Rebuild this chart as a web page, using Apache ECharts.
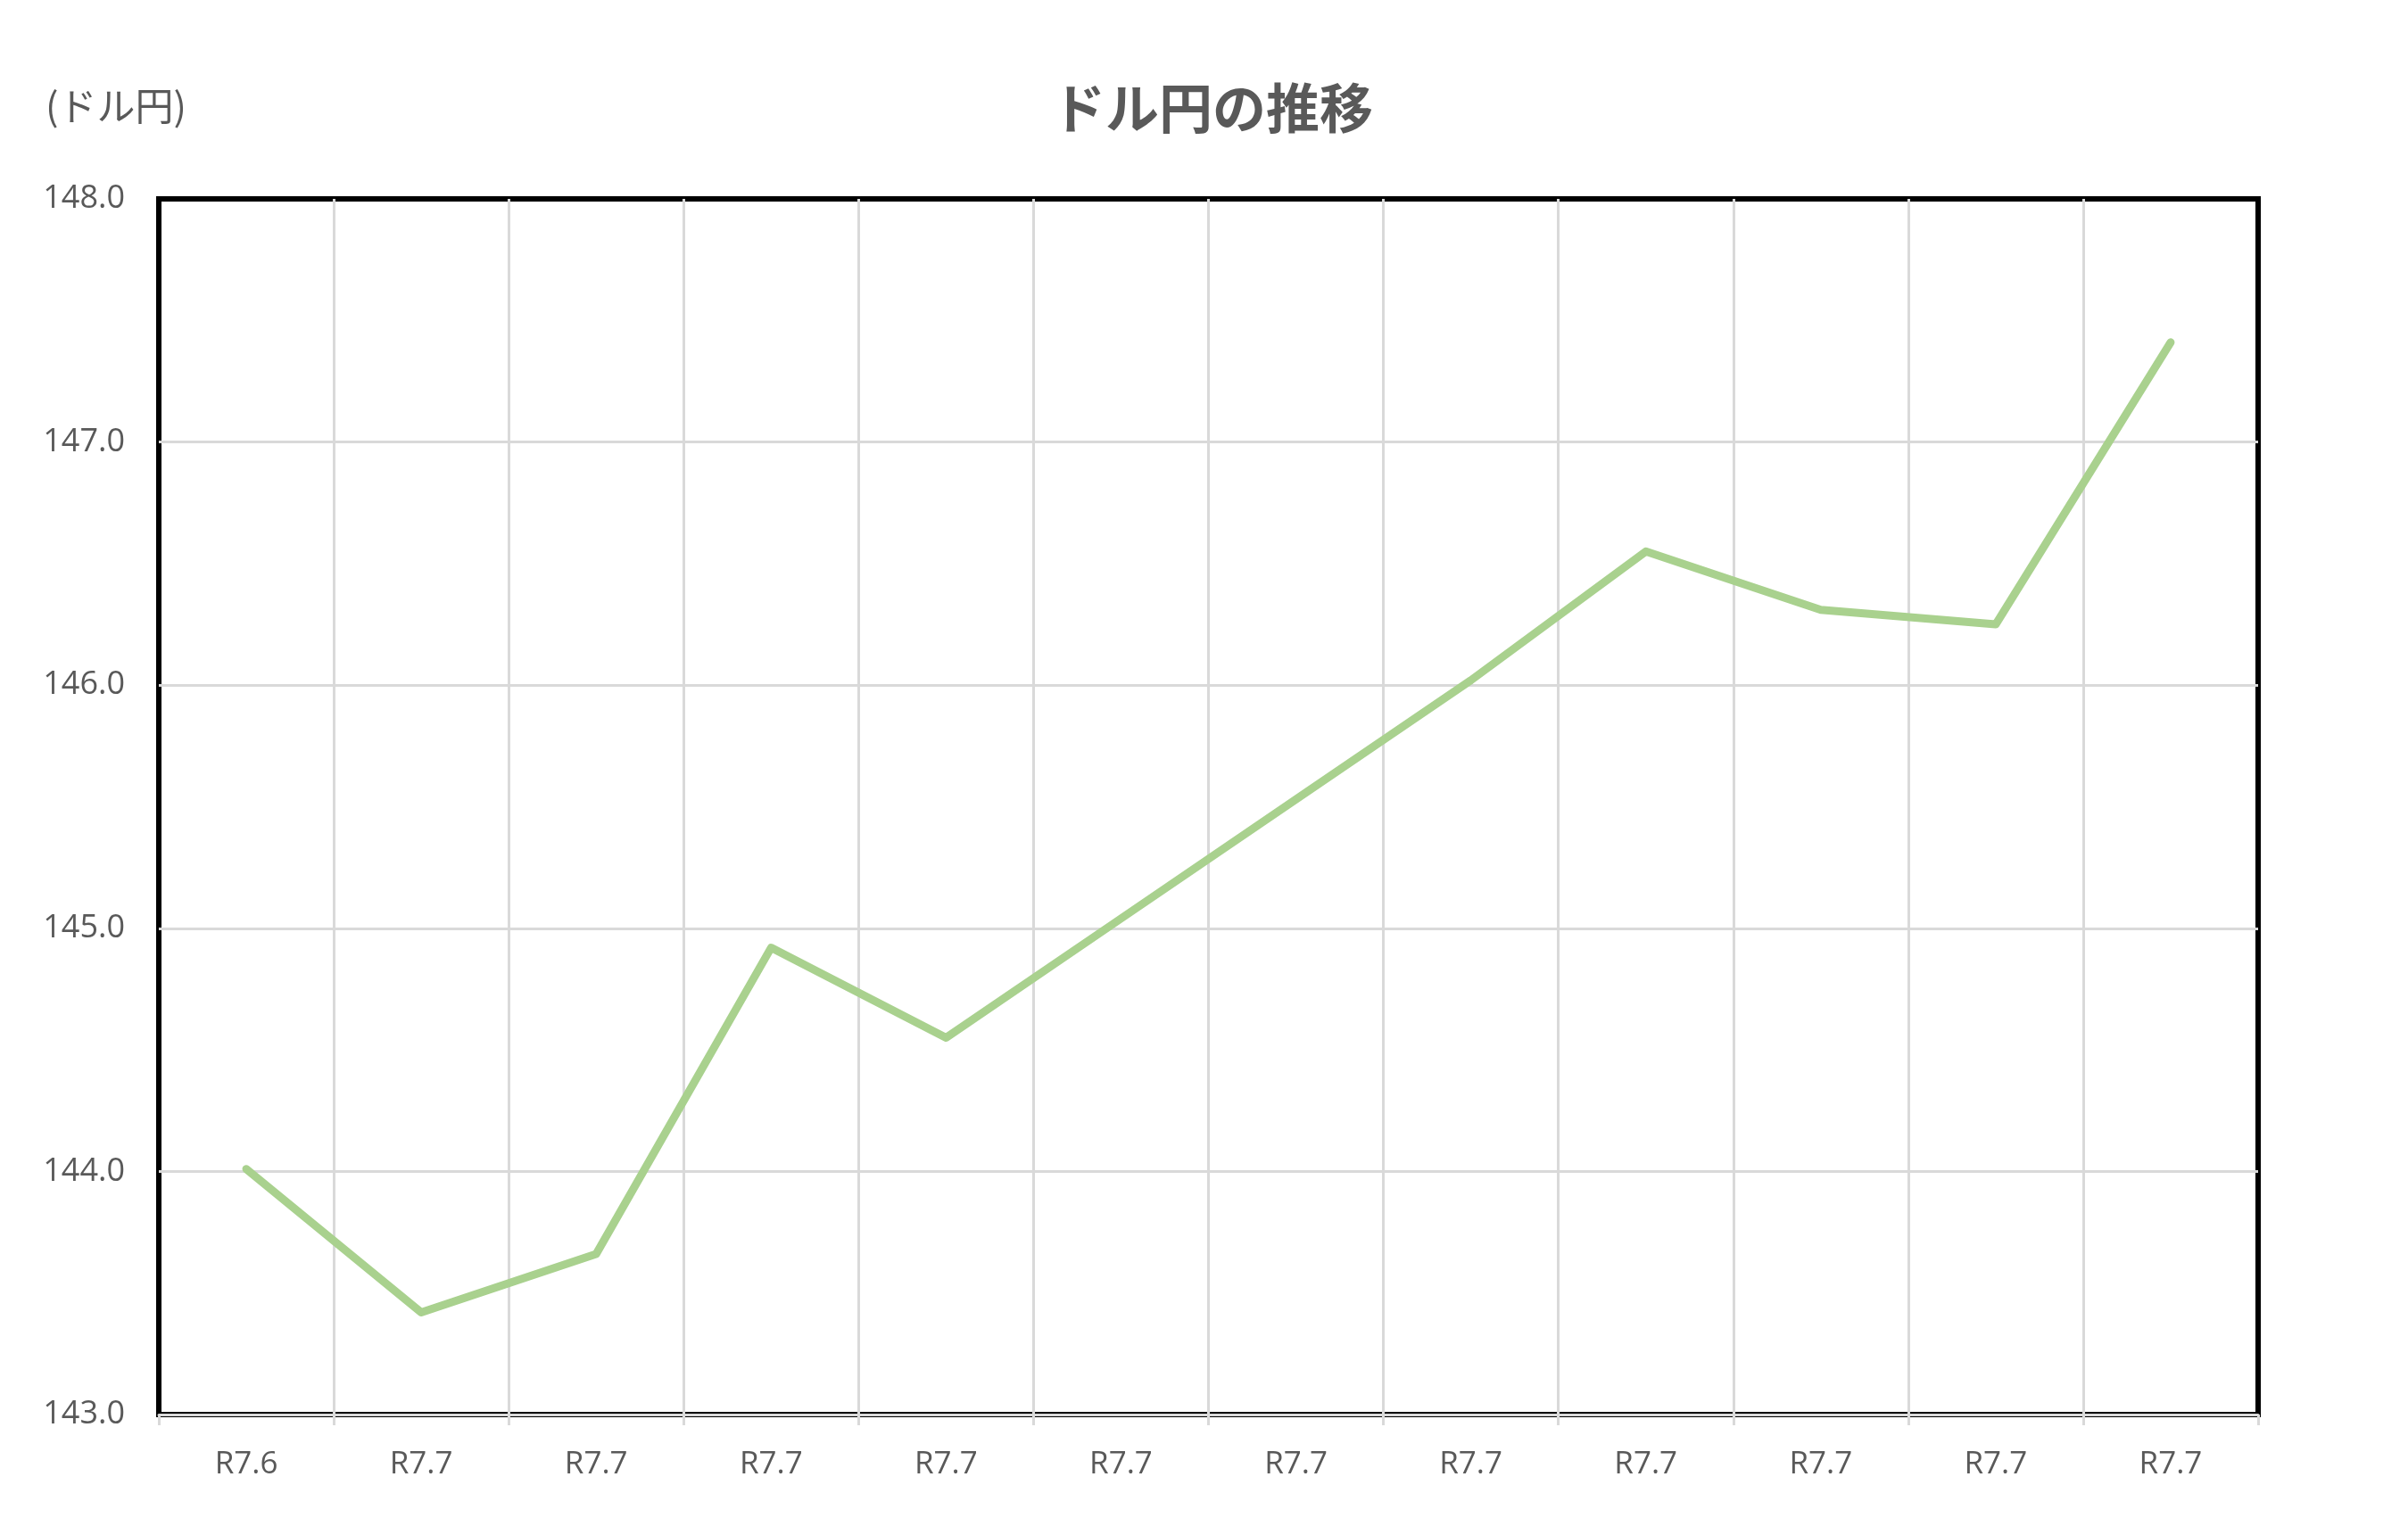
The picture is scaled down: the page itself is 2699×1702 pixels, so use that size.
<!DOCTYPE html>
<html>
<head>
<meta charset="utf-8">
<script src="https://cdn.jsdelivr.net/npm/echarts@6/dist/echarts.min.js"></script>
<style>
html,body{margin:0;padding:0;background:#fff;}
#chart{width:2699px;height:1702px;}
</style>
</head>
<body>
<div id="chart"></div>
<script>
const categories = ['R7.6','R7.7','R7.7','R7.7','R7.7','R7.7','R7.7','R7.7','R7.7','R7.7','R7.7','R7.7'];
const usdJpy = [144.01, 143.42, 143.66, 144.92, 144.55, 145.04, 145.53, 146.02, 146.55, 146.31, 146.25, 147.41];
const yMin = 143, yMax = 148, yStep = 1;
const chartTitle = 'ドル円の推移';
const unitLabel = '(ドル円)';

const latin = '"Open Sans", "Noto Sans", "Noto Sans CJK JP", sans-serif';
const grey = '#595959';
const gridGrey = '#d9d9d9';

const chart = echarts.init(document.getElementById('chart'));
chart.setOption({
  animation: false,
  backgroundColor: '#ffffff',
  title: [
    {
      text: chartTitle,
      left: 1354, top: 86, textAlign: 'center',
      textStyle: { fontFamily: '"Noto Sans CJK JP", sans-serif', fontWeight: 'bold', fontSize: 60, color: grey }
    },
    {
      text: unitLabel,
      left: 46, top: 92,
      textStyle: { fontFamily: '"Noto Sans CJK JP", sans-serif', fontWeight: 'normal', fontSize: 43, color: grey }
    }
  ],
  grid: {
    left: 178, right: 168, top: 223, bottom: 116,
    show: true, borderColor: '#000000', borderWidth: 6, backgroundColor: 'transparent', z: 0
  },
  xAxis: {
    type: 'category',
    data: categories,
    boundaryGap: true,
    z: 5,
    axisLine: { show: true, lineStyle: { color: gridGrey, width: 3 } },
    axisTick: { show: true, length: 12, lineStyle: { color: gridGrey, width: 3 } },
    axisLabel: { margin: 39, fontSize: 35, color: grey, fontFamily: latin, interval: 0 },
    splitLine: { show: true, showMinLine: false, showMaxLine: false, lineStyle: { color: gridGrey, width: 3 } }
  },
  yAxis: {
    type: 'value',
    min: yMin, max: yMax, interval: yStep,
    axisLine: { show: false },
    axisTick: { show: false },
    axisLabel: { margin: 38, fontSize: 36, color: grey, fontFamily: latin, formatter: v => v.toFixed(1) },
    splitLine: { show: true, showMinLine: false, showMaxLine: false, lineStyle: { color: gridGrey, width: 3 } }
  },
  series: [{
    type: 'line',
    data: usdJpy,
    symbol: 'none',
    smooth: false,
    z: 10,
    lineStyle: { color: '#a9d18e', width: 9, cap: 'round', join: 'round' }
  }]
});
</script>
</body>
</html>
